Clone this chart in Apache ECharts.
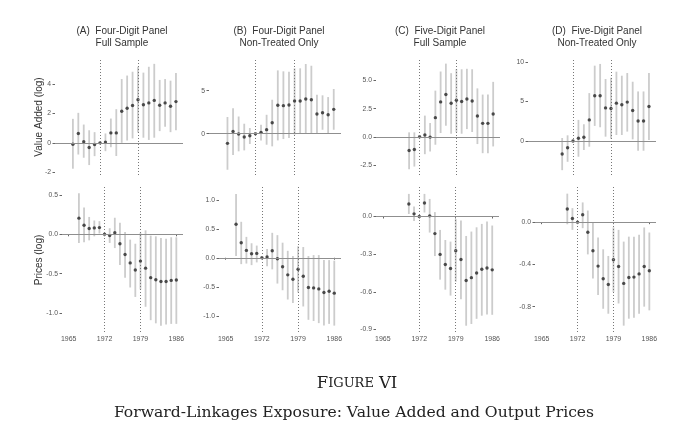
<!DOCTYPE html>
<html>
<head>
<meta charset="utf-8">
<title>Figure VI</title>
<script src="https://cdn.jsdelivr.net/npm/echarts@6/dist/echarts.min.js"></script>
<style>
  html, body { margin: 0; padding: 0; background: #fff; }
  #chart { width: 680px; height: 423px; }
</style>
</head>
<body>
<div id="chart"></div>
<script>
// years covered by the four-digit and five-digit panels
const yearsLong = [1967, 1968, 1969, 1970, 1971, 1972, 1973, 1974, 1975, 1976,
  1977, 1978, 1979, 1980, 1981, 1982, 1983, 1984, 1985, 1986];
const yearsShort = [1970, 1971, 1972, 1973, 1974, 1975, 1976, 1977, 1978, 1979,
  1980, 1981, 1982, 1983, 1984, 1985, 1986];
const yearTicks = [1965, 1972, 1979, 1986];
const breakYears = [1972, 1979];

// value added (log): estimate, lower and upper bound
const vaA = [-0.10, 0.64, 0.07, -0.32, -0.11, 0, 0.05, 0.68, 0.68, 2.16, 2.36, 2.55, 2.95, 2.60, 2.73, 2.90, 2.57, 2.73, 2.50, 2.82];
const vaALo = [-1.77, -0.80, -1.02, -1.52, -0.91, 0, -0.57, -0.30, -0.90, 0.00, 0.16, 0.30, 0.70, 0.35, 0.20, 0.35, 0.80, 1.10, 0.73, 0.86];
const vaAHi = [1.64, 2.05, 1.25, 0.86, 0.73, 0, 0.64, 1.66, 2.30, 4.36, 4.60, 4.86, 5.20, 4.80, 5.20, 5.40, 4.30, 4.36, 4.25, 4.77];

const vaB = [-1.12, 0.27, -0.04, -0.39, -0.23, 0, 0.16, 0.47, 1.28, 3.30, 3.26, 3.33, 3.80, 3.80, 4.03, 3.95, 2.29, 2.44, 2.20, 2.83];
const vaBLo = [-4.19, -2.48, -2.05, -1.94, -1.20, 0, -0.78, -1.28, -1.47, -0.78, -0.62, -0.50, -0.10, 0.00, 0.00, 0.00, 0.08, 0.46, 0.08, 0.46];
const vaBHi = [1.94, 2.95, 2.00, 1.16, 0.66, 0, 1.05, 2.20, 3.95, 7.36, 7.25, 7.20, 7.60, 7.60, 8.10, 7.90, 4.53, 4.46, 4.26, 5.20];

const vaC = [-1.22, -1.13, 0, 0.15, -0.03, 1.70, 3.10, 3.75, 2.98, 3.24, 3.13, 3.36, 3.18, 1.85, 1.19, 1.19, 2.02];
const vaCLo = [-2.89, -2.65, 0, -1.55, -1.31, -0.71, 0.33, 0.98, 0.27, 0.40, 0.27, 0.68, 0.42, -0.65, -1.46, -1.46, -0.86];
const vaCHi = [0.39, 0.39, 0, 1.88, 1.22, 4.10, 5.80, 6.50, 5.65, 6.00, 6.00, 6.04, 6.00, 4.30, 3.75, 3.75, 4.88];

const vaD = [-1.65, -0.85, 0, 0.34, 0.47, 2.67, 5.72, 5.72, 4.19, 4.11, 4.79, 4.58, 4.92, 3.86, 2.54, 2.54, 4.36];
const vaDLo = [-3.69, -2.63, 0, -1.99, -1.14, -0.72, 1.91, 1.74, 0.55, 0.30, 0.76, 0.76, 1.19, 0.21, -1.23, -1.23, 0.13];
const vaDHi = [0.38, 0.72, 0, 2.67, 2.12, 6.06, 9.53, 9.75, 7.84, 8.00, 8.77, 8.26, 8.60, 7.50, 6.27, 6.27, 8.60];

// prices (log): estimate, lower and upper bound
const prA = [0.205, 0.115, 0.073, 0.081, 0.085, 0, -0.017, 0.021, -0.12, -0.256, -0.363, -0.453, -0.34, -0.43, -0.55, -0.577, -0.60, -0.60, -0.585, -0.58];
const prALo = [-0.11, -0.10, -0.077, -0.026, 0.01, 0, -0.11, -0.175, -0.39, -0.55, -0.675, -0.795, -0.70, -0.92, -1.09, -1.13, -1.16, -1.145, -1.137, -1.137];
const prAHi = [0.52, 0.34, 0.22, 0.175, 0.167, 0, 0.077, 0.21, 0.145, 0.03, -0.068, -0.12, 0.02, 0.05, -0.017, -0.026, -0.047, -0.056, -0.038, -0.038];

const prB = [0.578, 0.26, 0.127, 0.07, 0.075, 0, 0.012, 0.121, -0.017, -0.156, -0.295, -0.37, -0.197, -0.318, -0.514, -0.52, -0.537, -0.60, -0.578, -0.61];
const prBLo = [0.03, -0.11, -0.10, -0.127, -0.08, 0, -0.145, -0.20, -0.445, -0.56, -0.72, -0.78, -0.60, -0.84, -1.07, -1.09, -1.127, -1.17, -1.14, -1.17];
const prBHi = [1.10, 0.62, 0.36, 0.25, 0.21, 0, 0.15, 0.43, 0.39, 0.26, 0.12, 0.03, 0.20, 0.185, 0.03, 0.046, 0.046, -0.04, -0.04, -0.05];

const prC = [0.10, 0.021, 0, 0.107, 0.005, -0.136, -0.302, -0.382, -0.414, -0.273, -0.342, -0.51, -0.487, -0.45, -0.42, -0.41, -0.425];
const prCLo = [0.02, -0.035, 0, 0.032, -0.128, -0.315, -0.503, -0.583, -0.63, -0.52, -0.66, -0.87, -0.856, -0.815, -0.79, -0.78, -0.783];
const prCHi = [0.18, 0.08, 0, 0.18, 0.14, 0.035, -0.107, -0.187, -0.20, -0.02, -0.032, -0.155, -0.12, -0.086, -0.059, -0.04, -0.072];

const prD = [0.124, 0.035, 0, 0.07, -0.095, -0.27, -0.416, -0.536, -0.59, -0.356, -0.42, -0.58, -0.524, -0.52, -0.49, -0.42, -0.46];
const prDLo = [-0.02, -0.073, 0, -0.057, -0.305, -0.533, -0.69, -0.82, -0.867, -0.66, -0.77, -0.98, -0.914, -0.905, -0.867, -0.80, -0.835];
const prDHi = [0.27, 0.133, 0, 0.187, 0.11, -0.003, -0.146, -0.257, -0.32, -0.05, -0.073, -0.184, -0.137, -0.137, -0.12, -0.05, -0.098];

// y tick labels per panel
const vaATicks = [-2, 0, 2, 4];
const vaBTicks = [0, 5];
const vaCTicks = [-2.5, 0, 2.5, 5];
const vaDTicks = [0, 5, 10];
const prATicks = [-1, -0.5, 0, 0.5];
const prBTicks = [-1, -0.5, 0, 0.5, 1];
const prCTicks = [-0.9, -0.6, -0.3, 0];
const prDTicks = [-0.8, -0.4, 0];

const panelTitles = [
  '(A)  Four-Digit Panel\nFull Sample',
  '(B)  Four-Digit Panel\nNon-Treated Only',
  '(C)  Five-Digit Panel\nFull Sample',
  '(D)  Five-Digit Panel\nNon-Treated Only'
];

const SANS = '"Liberation Sans", Arial, sans-serif';
const SERIF = '"DejaVu Serif", serif';

// layout: grid box in pixels, y range, digits on the tick labels
const panels = [
  {years: yearsLong, est: vaA, lo: vaALo, hi: vaAHi, ticks: vaATicks, dec: 0, box: [55, 58, 128, 117], y: [-2.2, 5.8], bottom: false},
  {years: yearsLong, est: vaB, lo: vaBLo, hi: vaBHi, ticks: vaBTicks, dec: 0, box: [209, 58, 132, 117], y: [-4.8, 8.8], bottom: false},
  {years: yearsShort, est: vaC, lo: vaCLo, hi: vaCHi, ticks: vaCTicks, dec: 1, box: [376, 58, 124, 117], y: [-3.4, 7.0], bottom: false},
  {years: yearsShort, est: vaD, lo: vaDLo, hi: vaDHi, ticks: vaDTicks, dec: 0, box: [528, 58, 128, 117], y: [-4.3, 10.5], bottom: false},
  {years: yearsLong, est: prA, lo: prALo, hi: prAHi, ticks: prATicks, dec: 1, box: [62, 187, 121, 145], y: [-1.24, 0.6], bottom: true},
  {years: yearsLong, est: prB, lo: prBLo, hi: prBHi, ticks: prBTicks, dec: 1, box: [219, 187, 122, 145], y: [-1.28, 1.22], bottom: true},
  {years: yearsShort, est: prC, lo: prCLo, hi: prCHi, ticks: prCTicks, dec: 1, box: [376, 187, 123, 145], y: [-0.92, 0.235], bottom: true},
  {years: yearsShort, est: prD, lo: prDLo, hi: prDHi, ticks: prDTicks, dec: 1, box: [535, 187, 121, 145], y: [-1.04, 0.333], bottom: true}
];

const grid = [], xAxis = [], yAxis = [], series = [];

panels.forEach(function (p, i) {
  grid.push({left: p.box[0], top: p.box[1], width: p.box[2], height: p.box[3]});

  xAxis.push({
    type: 'value', gridIndex: i, min: 1963.7, max: 1987.3,
    axisLine: {show: false},
    splitLine: {show: false},
    axisTick: {show: p.bottom, length: 2, lineStyle: {color: '#666'}, customValues: yearTicks},
    axisLabel: {show: p.bottom, customValues: yearTicks, fontFamily: SANS, fontSize: 7,
      color: '#555', margin: 4, formatter: function (v) { return String(v); }}
  });

  yAxis.push({
    type: 'value', gridIndex: i, min: p.y[0], max: p.y[1],
    axisLine: {show: false},
    splitLine: {show: false},
    axisTick: {show: true, length: 2.5, lineStyle: {color: '#666'}, customValues: p.ticks},
    axisLabel: {customValues: p.ticks, fontFamily: SANS, fontSize: 6.8, color: '#555', margin: 4,
      formatter: function (v) { return v.toFixed(p.dec); }}
  });

  const ci = p.years.map(function (yr, k) { return [yr, p.lo[k], p.hi[k]]; });
  const pts = p.years.map(function (yr, k) { return [yr, p.est[k]]; });

  series.push({
    type: 'custom', xAxisIndex: i, yAxisIndex: i, silent: true,
    data: ci,
    encode: {x: 0, y: [1, 2]},
    renderItem: function (params, api) {
      const x = api.value(0);
      const a = api.coord([x, api.value(1)]);
      const b = api.coord([x, api.value(2)]);
      return {
        type: 'line',
        shape: {x1: a[0], y1: a[1], x2: b[0], y2: b[1]},
        style: {stroke: '#cccccc', lineWidth: 1.8}
      };
    },
    z: 1
  });

  series.push({
    type: 'scatter', xAxisIndex: i, yAxisIndex: i, silent: true,
    data: pts,
    symbol: 'circle', symbolSize: 3.4,
    itemStyle: {color: '#262626'},
    z: 3,
    markLine: {
      silent: true, symbol: ['none', 'none'], label: {show: false},
      animation: false,
      data: [
        {yAxis: 0, lineStyle: {color: '#8f8f8f', width: 1, type: 'solid'}},
        {xAxis: breakYears[0], lineStyle: {color: '#777', width: 1, type: [1, 2]}},
        {xAxis: breakYears[1], lineStyle: {color: '#777', width: 1, type: [1, 2]}}
      ]
    }
  });
});

const titleCenters = [117, 274, 435, 592];
const title = titleCenters.map(function (cx, i) {
  return {
    text: panelTitles[i], left: cx, top: 19.5, textAlign: 'center',
    textStyle: {fontFamily: SANS, fontSize: 10, fontWeight: 'normal', color: '#333', lineHeight: 12.5}
  };
});

title.push({
  text: '{big|F}{small|IGURE} {big|VI}', left: 352, top: 370, textAlign: 'center',
  textStyle: {
    fontWeight: 'normal',
    rich: {
      big: {fontFamily: SERIF, fontSize: 16.5, fontWeight: 'normal', color: '#222'},
      small: {fontFamily: SERIF, fontSize: 13, fontWeight: 'normal', color: '#222'}
    }
  }
});
title.push({
  text: 'Forward-Linkages Exposure: Value Added and Output Prices',
  left: 349, top: 400, textAlign: 'center',
  textStyle: {fontFamily: SERIF, fontSize: 15.6, fontWeight: 'normal', color: '#222'}
});

const graphic = [
  {type: 'text', x: 39, y: 117, rotation: Math.PI / 2,
    style: {text: 'Value Added (log)', fontFamily: SANS, fontSize: 10, fill: '#333',
      textAlign: 'center', textVerticalAlign: 'middle'}},
  {type: 'text', x: 39, y: 260, rotation: Math.PI / 2,
    style: {text: 'Prices (log)', fontFamily: SANS, fontSize: 10, fill: '#333',
      textAlign: 'center', textVerticalAlign: 'middle'}}
];

const chart = echarts.init(document.getElementById('chart'));
chart.setOption({
  backgroundColor: '#fff',
  animation: false,
  title: title,
  grid: grid,
  xAxis: xAxis,
  yAxis: yAxis,
  series: series,
  graphic: graphic
});
</script>
</body>
</html>
